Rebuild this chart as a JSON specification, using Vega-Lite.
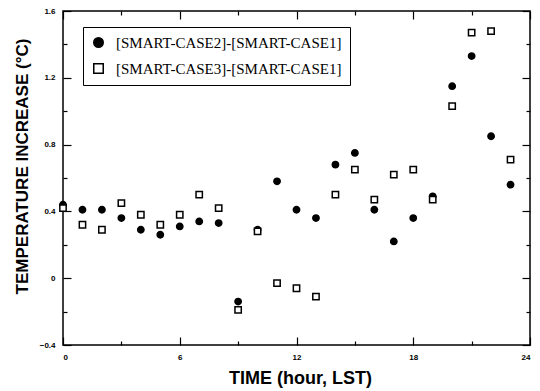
{
  "$schema": "https://vega.github.io/schema/vega-lite/v6.json",
  "width": 467,
  "height": 334,
  "autosize": {"type": "none"},
  "padding": {"left": 63, "top": 11, "right": 10, "bottom": 46},
  "background": "white",
  "config": {
    "view": {"stroke": "black", "strokeWidth": 1.5},
    "axis": {"grid": false, "domain": false, "tickColor": "black", "labelColor": "black", "titleColor": "black", "labelFont": "Liberation Sans", "titleFont": "Liberation Sans", "labelFontWeight": "bold", "titleFontWeight": "bold"},
    "legend": {"title": null, "orient": "none", "legendX": 20, "legendY": 16, "strokeColor": "black", "padding": 8, "labelLimit": 0,
      "labelFont": "Liberation Serif", "labelFontSize": 15, "labelColor": "black", "symbolSize": 90, "symbolStrokeWidth": 1.5, "rowPadding": 9, "labelOffset": 10, "symbolStrokeColor": "black"}
  },
  "data": {
    "values": [
      {"hour": 0, "series": "[SMART-CASE2]-[SMART-CASE1]", "value": 0.44},
      {"hour": 1, "series": "[SMART-CASE2]-[SMART-CASE1]", "value": 0.41},
      {"hour": 2, "series": "[SMART-CASE2]-[SMART-CASE1]", "value": 0.41},
      {"hour": 3, "series": "[SMART-CASE2]-[SMART-CASE1]", "value": 0.36},
      {"hour": 4, "series": "[SMART-CASE2]-[SMART-CASE1]", "value": 0.29},
      {"hour": 5, "series": "[SMART-CASE2]-[SMART-CASE1]", "value": 0.26},
      {"hour": 6, "series": "[SMART-CASE2]-[SMART-CASE1]", "value": 0.31},
      {"hour": 7, "series": "[SMART-CASE2]-[SMART-CASE1]", "value": 0.34},
      {"hour": 8, "series": "[SMART-CASE2]-[SMART-CASE1]", "value": 0.33},
      {"hour": 9, "series": "[SMART-CASE2]-[SMART-CASE1]", "value": -0.14},
      {"hour": 10, "series": "[SMART-CASE2]-[SMART-CASE1]", "value": 0.29},
      {"hour": 11, "series": "[SMART-CASE2]-[SMART-CASE1]", "value": 0.58},
      {"hour": 12, "series": "[SMART-CASE2]-[SMART-CASE1]", "value": 0.41},
      {"hour": 13, "series": "[SMART-CASE2]-[SMART-CASE1]", "value": 0.36},
      {"hour": 14, "series": "[SMART-CASE2]-[SMART-CASE1]", "value": 0.68},
      {"hour": 15, "series": "[SMART-CASE2]-[SMART-CASE1]", "value": 0.75},
      {"hour": 16, "series": "[SMART-CASE2]-[SMART-CASE1]", "value": 0.41},
      {"hour": 17, "series": "[SMART-CASE2]-[SMART-CASE1]", "value": 0.22},
      {"hour": 18, "series": "[SMART-CASE2]-[SMART-CASE1]", "value": 0.36},
      {"hour": 19, "series": "[SMART-CASE2]-[SMART-CASE1]", "value": 0.49},
      {"hour": 20, "series": "[SMART-CASE2]-[SMART-CASE1]", "value": 1.15},
      {"hour": 21, "series": "[SMART-CASE2]-[SMART-CASE1]", "value": 1.33},
      {"hour": 22, "series": "[SMART-CASE2]-[SMART-CASE1]", "value": 0.85},
      {"hour": 23, "series": "[SMART-CASE2]-[SMART-CASE1]", "value": 0.56},
      {"hour": 0, "series": "[SMART-CASE3]-[SMART-CASE1]", "value": 0.42},
      {"hour": 1, "series": "[SMART-CASE3]-[SMART-CASE1]", "value": 0.32},
      {"hour": 2, "series": "[SMART-CASE3]-[SMART-CASE1]", "value": 0.29},
      {"hour": 3, "series": "[SMART-CASE3]-[SMART-CASE1]", "value": 0.45},
      {"hour": 4, "series": "[SMART-CASE3]-[SMART-CASE1]", "value": 0.38},
      {"hour": 5, "series": "[SMART-CASE3]-[SMART-CASE1]", "value": 0.32},
      {"hour": 6, "series": "[SMART-CASE3]-[SMART-CASE1]", "value": 0.38},
      {"hour": 7, "series": "[SMART-CASE3]-[SMART-CASE1]", "value": 0.50},
      {"hour": 8, "series": "[SMART-CASE3]-[SMART-CASE1]", "value": 0.42},
      {"hour": 9, "series": "[SMART-CASE3]-[SMART-CASE1]", "value": -0.19},
      {"hour": 10, "series": "[SMART-CASE3]-[SMART-CASE1]", "value": 0.28},
      {"hour": 11, "series": "[SMART-CASE3]-[SMART-CASE1]", "value": -0.03},
      {"hour": 12, "series": "[SMART-CASE3]-[SMART-CASE1]", "value": -0.06},
      {"hour": 13, "series": "[SMART-CASE3]-[SMART-CASE1]", "value": -0.11},
      {"hour": 14, "series": "[SMART-CASE3]-[SMART-CASE1]", "value": 0.50},
      {"hour": 15, "series": "[SMART-CASE3]-[SMART-CASE1]", "value": 0.65},
      {"hour": 16, "series": "[SMART-CASE3]-[SMART-CASE1]", "value": 0.47},
      {"hour": 17, "series": "[SMART-CASE3]-[SMART-CASE1]", "value": 0.62},
      {"hour": 18, "series": "[SMART-CASE3]-[SMART-CASE1]", "value": 0.65},
      {"hour": 19, "series": "[SMART-CASE3]-[SMART-CASE1]", "value": 0.47},
      {"hour": 20, "series": "[SMART-CASE3]-[SMART-CASE1]", "value": 1.03},
      {"hour": 21, "series": "[SMART-CASE3]-[SMART-CASE1]", "value": 1.47},
      {"hour": 22, "series": "[SMART-CASE3]-[SMART-CASE1]", "value": 1.48},
      {"hour": 23, "series": "[SMART-CASE3]-[SMART-CASE1]", "value": 0.71}
    ]
  },
  "layer": [
    {
      "mark": {"type": "point", "filled": true, "strokeWidth": 1.5, "opacity": 1, "size": 40},
      "encoding": {
        "x": {"field": "hour", "type": "quantitative", "scale": {"domain": [0, 24], "nice": false, "zero": false},
          "axis": {"title": "TIME (hour, LST)", "titleFontSize": 18, "titleX": 237, "titleY": 33, "titleBaseline": "middle", "titleAlign": "center",
            "values": [0, 3, 6, 9, 12, 15, 18, 21, 24],
            "labelExpr": "datum.value % 6 == 0 ? datum.label : ''", "labelFontSize": 8, "labelPadding": 16,
            "tickSize": {"condition": {"test": "datum.value % 6 == 0", "value": -8}, "value": -4}, "tickWidth": 1.2}},
        "y": {"field": "value", "type": "quantitative", "scale": {"domain": [-0.4, 1.6], "nice": false, "zero": false},
          "axis": {"title": "TEMPERATURE INCREASE (°C)", "titleFontSize": 17, "titleX": -41, "titleY": 155, "titleBaseline": "middle", "titleAlign": "center", "titleAngle": -90,
            "values": [-0.4, -0.2, 0, 0.2, 0.4, 0.6, 0.8, 1.0, 1.2, 1.4, 1.6],
            "labelExpr": "abs(round(datum.value * 10)) % 4 == 0 ? (datum.value == 0 ? '0' : format(datum.value, '.1f')) : ''", "labelFontSize": 8, "labelPadding": 16,
            "tickSize": {"condition": {"test": "abs(round(datum.value * 10)) % 4 == 0", "value": -8}, "value": -4}, "tickWidth": 1.2}},
        "shape": {"field": "series", "type": "nominal", "scale": {"range": ["circle", "square"]}, "legend": {"encode": {"legend": {"update": {"strokeWidth": {"value": 1.5}}}}}},
        "fill": {"field": "series", "type": "nominal", "scale": {"range": ["black", "white"]}, "legend": {"encode": {"legend": {"update": {"strokeWidth": {"value": 1.5}}}}}},
        "stroke": {"field": "series", "type": "nominal", "scale": {"range": ["black", "black"]}, "legend": {"encode": {"legend": {"update": {"strokeWidth": {"value": 1.5}}}}}}
      }
    },
    {
      "mark": {"type": "point", "opacity": 0},
      "encoding": {
        "x": {"field": "hour", "type": "quantitative",
          "axis": {"orient": "top", "title": null, "labels": false, "values": [0, 3, 6, 9, 12, 15, 18, 21, 24],
            "tickSize": {"condition": {"test": "datum.value % 6 == 0", "value": -8}, "value": -4}, "tickWidth": 1.2}},
        "y": {"field": "value", "type": "quantitative",
          "axis": {"orient": "right", "title": null, "labels": false, "values": [-0.4, -0.2, 0, 0.2, 0.4, 0.6, 0.8, 1.0, 1.2, 1.4, 1.6],
            "tickSize": {"condition": {"test": "abs(round(datum.value * 10)) % 4 == 0", "value": -8}, "value": -4}, "tickWidth": 1.2}}
      }
    }
  ],
  "resolve": {"axis": {"x": "independent", "y": "independent"}}
}
